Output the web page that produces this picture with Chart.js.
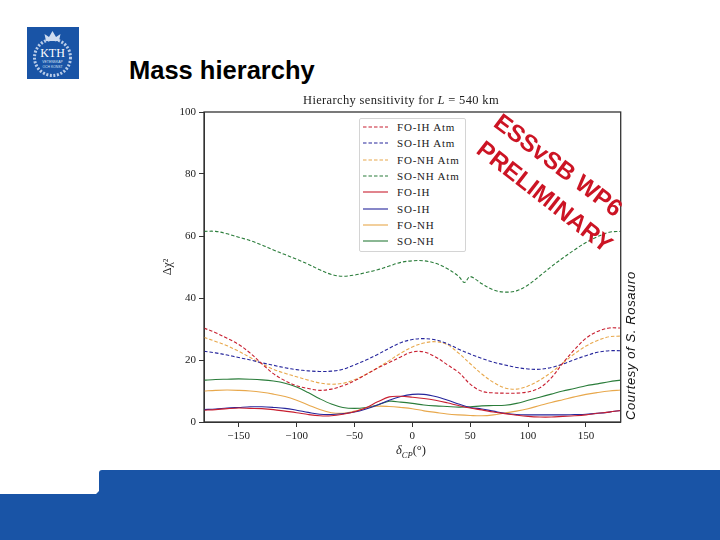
<!DOCTYPE html>
<html>
<head>
<meta charset="utf-8">
<title>Mass hierarchy</title>
<script src="https://cdn.jsdelivr.net/npm/chart.js@4/dist/chart.umd.min.js"></script>
<style>
  html, body { margin: 0; padding: 0; background: #fff; }
  #page { position: relative; width: 720px; height: 540px; overflow: hidden; background: #fff; font-family: "Liberation Sans", Arial, sans-serif; }
  #page > * { position: absolute; }
  #heading { left: 129px; top: 56px; font-size: 25.5px; font-weight: bold; color: #000; white-space: nowrap; }
  #plot { left: 154px; top: 90px; }
  #plotTitle { left: 303px; top: 93px; font: 12.5px "Liberation Serif", serif; letter-spacing: .35px; color: #222; white-space: nowrap; }
  #xTitle { left: 371px; top: 443px; width: 80px; text-align: center; font: 12.5px "Liberation Serif", serif; color: #222; }
  #xTitle sub { font-size: 8.5px; }
  .stamp { color: #cc1424; font-weight: bold; font-size: 24px; white-space: nowrap; transform-origin: 0 50%; }
  #credit { left: 630px; top: 420px; font-style: italic; font-size: 13px; color: #111; white-space: nowrap; transform-origin: 0 0; transform: rotate(-90deg) translateY(-7px); letter-spacing: .62px; }
  #legend { left: 359px; top: 118px; width: 105px; height: 132px; border: 1px solid #d4d4d4; border-radius: 2px; background: #fff; font: 11px "Liberation Serif", serif; color: #222; }
  #legend div { position: absolute; left: 3px; height: 16px; white-space: nowrap; line-height: 16px; }
  #legend svg { position: absolute; left: 0; top: 0; }
  #legend span { position: absolute; left: 34px; letter-spacing: .8px; }
</style>
</head>
<body>
<div id="page">
  <svg id="logo" style="left:27px;top:27px" width="52" height="52" viewBox="0 0 52 52">
    <rect width="52" height="52" fill="#1954a6"/>
    <circle cx="25.5" cy="30.5" r="18" fill="none" stroke="#b9cce8" stroke-width="3" stroke-dasharray="2 1.6"/>
    <path d="M19 14 L17.5 7 L22 10 L25.5 4 L29 10 L33.5 7 L32 14 Z" fill="#cfdcf0"/>
    <text x="25.5" y="30" text-anchor="middle" font-family="Liberation Serif" font-size="12" fill="#fff">KTH</text>
    <text x="25.5" y="36" text-anchor="middle" font-family="Liberation Sans" font-size="3.4" fill="#d8e3f4">VETENSKAP</text>
    <text x="25.5" y="40.5" text-anchor="middle" font-family="Liberation Sans" font-size="3.4" fill="#d8e3f4">OCH KONST</text>
  </svg>
  <div id="heading">Mass hierarchy</div>
  <svg id="footer" style="left:0;top:468px" width="720" height="72">
    <path d="M0 26 H96 L99 23 V5 Q99 2 102 2 H720 V72 H0 Z" fill="#1954a6"/>
  </svg>
  <canvas id="plot" width="516" height="360"></canvas>
  <div id="plotTitle">Hierarchy sensitivity for <i>L</i> = 540 km</div>
  <div id="xTitle"><i>δ<sub>CP</sub></i>(°)</div>
  <div id="legend"></div>
  <div class="stamp" style="left:497px;top:105px;transform:rotate(37deg)">ESSvSB WP6</div>
  <div class="stamp" style="left:480px;top:132px;transform:rotate(38deg)">PRELIMINARY</div>
  <div id="credit">Courtesy of S. Rosauro</div>
</div>
<script>
const xTicks = [-150, -100, -50, 0, 50, 100, 150];
const yTicks = [0, 20, 40, 60, 80, 100];

const deltaCP = [-180, -170, -160, -150, -140, -130, -120, -110, -100, -90, -80, -70, -60, -50, -40, -30, -20, -10,
  0, 10, 20, 30, 40, 50, 60, 70, 80, 90, 100, 110, 120, 130, 140, 150, 160, 170, 180];
// this one has the little jump near 45-50 so it gets its own x values
const deltaCPAtmGreen = [-180, -170, -160, -150, -140, -130, -120, -110, -100, -90, -80, -70, -60, -50, -40, -30, -20, -10,
  0, 10, 20, 30, 40, 45, 50, 60, 70, 80, 90, 100, 110, 120, 130, 140, 150, 160, 170, 180];

const foIhAtm = [30.3, 28.8, 27, 25, 22.2, 18.8, 15.6, 13.3, 11.7, 10.8, 10.2, 10.6, 11.7, 13.3, 15.3, 17.4, 19.2, 21,
  22.6, 22.6, 21, 18.5, 16, 12.2, 9.9, 9.4, 9.3, 9.3, 9.7, 11, 14.2, 19, 23.3, 27, 29.2, 30.3, 30.3];
const soIhAtm = [22.8, 22.3, 21.6, 20.8, 20, 19.1, 18.3, 17.5, 16.9, 16.5, 16.3, 16.4, 17, 18.4, 20, 21.8, 23.8, 25.6,
  26.6, 26.9, 26.5, 25.3, 23.5, 21.9, 20.5, 19.3, 18.4, 17.6, 17.1, 17, 17.6, 18.7, 20.1, 21.4, 22.5, 23, 23];
const foNhAtm = [27.3, 26, 24.6, 22.8, 20.8, 18.8, 17, 15.7, 14.6, 13.5, 12.6, 12.2, 12.5, 13.6, 15.4, 17.5, 19.8, 22.2,
  24.2, 25.5, 25.9, 25, 22.2, 18.8, 15.5, 12.8, 11, 10.6, 11.6, 13.5, 16, 19, 22, 24.5, 26.3, 27.5, 27.7];
const soNhAtm = [61.5, 61.5, 60.7, 59.6, 58.5, 57.1, 55.5, 54, 52.5, 50.9, 49.1, 47.6, 47, 47.4, 48.2, 49.1, 50.3, 51.5,
  52, 52, 51.2, 49.5, 47, 45, 46.9, 44.6, 42.6, 41.9, 42.3, 44.2, 47.1, 50.1, 52.9, 55.5, 57.9, 59.8, 61.2, 61.5];
const foIh = [3.8, 4, 4.3, 4.5, 4.4, 4.3, 4, 3.5, 3, 2.4, 2, 2, 2.5, 3.3, 4.6, 6.5, 8.1, 8.3,
  8, 7.6, 7, 6.2, 5.3, 4.5, 3.9, 3.2, 2.7, 2.2, 1.8, 1.6, 1.6, 1.8, 2, 2.3, 2.8, 3.2, 3.7];
const soIh = [4, 4.2, 4.5, 4.7, 4.9, 4.9, 4.7, 4.4, 3.8, 3.1, 2.5, 2.4, 2.7, 3.2, 4.2, 5.5, 7, 8.2,
  8.9, 8.9, 8.2, 7.1, 5.8, 4.7, 4.2, 3.5, 2.8, 2.4, 2.3, 2.3, 2.3, 2.3, 2.4, 2.5, 2.8, 3.2, 3.7];
const foNh = [10, 10.2, 10.3, 10.2, 10, 9.6, 9, 8.2, 7, 5.5, 4, 3, 2.8, 3.5, 4.5, 5.1, 5, 4.7,
  4.3, 3.6, 3.1, 2.6, 2.3, 2.1, 2, 2.3, 2.9, 3.5, 4.3, 5.3, 6.3, 7.2, 8.1, 8.9, 9.5, 10, 10.3];
const soNh = [13.5, 13.7, 13.8, 13.9, 13.8, 13.6, 13.2, 12.5, 11.3, 9.5, 7.5, 5.8, 4.7, 4.4, 4.7, 5.5, 6.7, 6.4,
  6, 5.5, 5.2, 5, 4.8, 4.9, 5.2, 5.3, 5.4, 6, 7, 8, 9, 10, 10.8, 11.7, 12.3, 13, 13.5];

const red = "#c81f30", blue = "#26269c", orange = "#e8a84c", green = "#2b7d3b";
const serif = "'Liberation Serif', serif";

function series(label, xs, ys, color, dashed) {
  return {
    label: label,
    data: ys.map((y, i) => ({ x: xs[i], y: y })),
    borderColor: color,
    borderWidth: 1.1,
    borderDash: dashed ? [3.5, 2] : [],
    pointRadius: 0,
    tension: 0.35,
    fill: false,
  };
}

const datasets = [
  series("FO-IH Atm", deltaCP, foIhAtm, red, true),
  series("SO-IH Atm", deltaCP, soIhAtm, blue, true),
  series("FO-NH Atm", deltaCP, foNhAtm, orange, true),
  series("SO-NH Atm", deltaCPAtmGreen, soNhAtm, green, true),
  series("FO-IH", deltaCP, foIh, red, false),
  series("SO-IH", deltaCP, soIh, blue, false),
  series("FO-NH", deltaCP, foNh, orange, false),
  series("SO-NH", deltaCP, soNh, green, false),
];

// matplotlib style box round the plot
const frame = {
  id: "frame",
  afterDatasetsDraw(chart) {
    const a = chart.chartArea, c = chart.ctx;
    c.save();
    c.strokeStyle = "#333";
    c.lineWidth = 1.3;
    c.strokeRect(a.left, a.top, a.right - a.left, a.bottom - a.top);
    c.restore();
  },
};

new Chart(document.getElementById("plot"), {
  type: "line",
  data: { datasets: datasets },
  plugins: [frame],
  options: {
    responsive: false,
    animation: false,
    layout: { padding: { left: 0, right: 49.3, top: 22, bottom: 0 } },
    plugins: {
      legend: { display: false },
      tooltip: { enabled: false },
    },
    scales: {
      x: {
        type: "linear",
        min: -180,
        max: 180,
        afterBuildTicks: (s) => { s.ticks = xTicks.map((v) => ({ value: v })); },
        afterFit: (s) => { s.height = 28; },
        grid: { drawOnChartArea: false, tickLength: 5, color: "#333" },
        border: { color: "#333" },
        ticks: {
          maxRotation: 0,
          color: "#222",
          padding: 3,
          font: { family: serif, size: 11 },
          callback: (v) => String(v).replace("-", "\u2212"),
        },
      },
      y: {
        min: 0,
        max: 100,
        afterBuildTicks: (s) => { s.ticks = yTicks.map((v) => ({ value: v })); },
        afterFit: (s) => { s.width = 50; },
        grid: { drawOnChartArea: false, tickLength: 5, color: "#333" },
        border: { color: "#333" },
        title: {
          display: true,
          text: "\u0394\u03c7\u00b2",
          color: "#222",
          font: { family: serif, size: 12 },
          padding: { top: 7, bottom: 0 },
        },
        ticks: { color: "#222", padding: 3, font: { family: serif, size: 11 } },
      },
    },
  },
});

// legend inside the plot, built from the datasets
const legendBox = document.getElementById("legend");
datasets.forEach((d, i) => {
  const row = document.createElement("div");
  row.style.top = (0 + i * 16.3) + "px";
  const dash = d.borderDash.length ? 'stroke-dasharray="3.5 2"' : "";
  row.innerHTML = '<svg width="30" height="16"><line x1="0" x2="25" y1="8" y2="8" stroke="' + d.borderColor +
    '" stroke-width="1.1" ' + dash + '/></svg><span>' + d.label + "</span>";
  legendBox.appendChild(row);
});
</script>
</body>
</html>
